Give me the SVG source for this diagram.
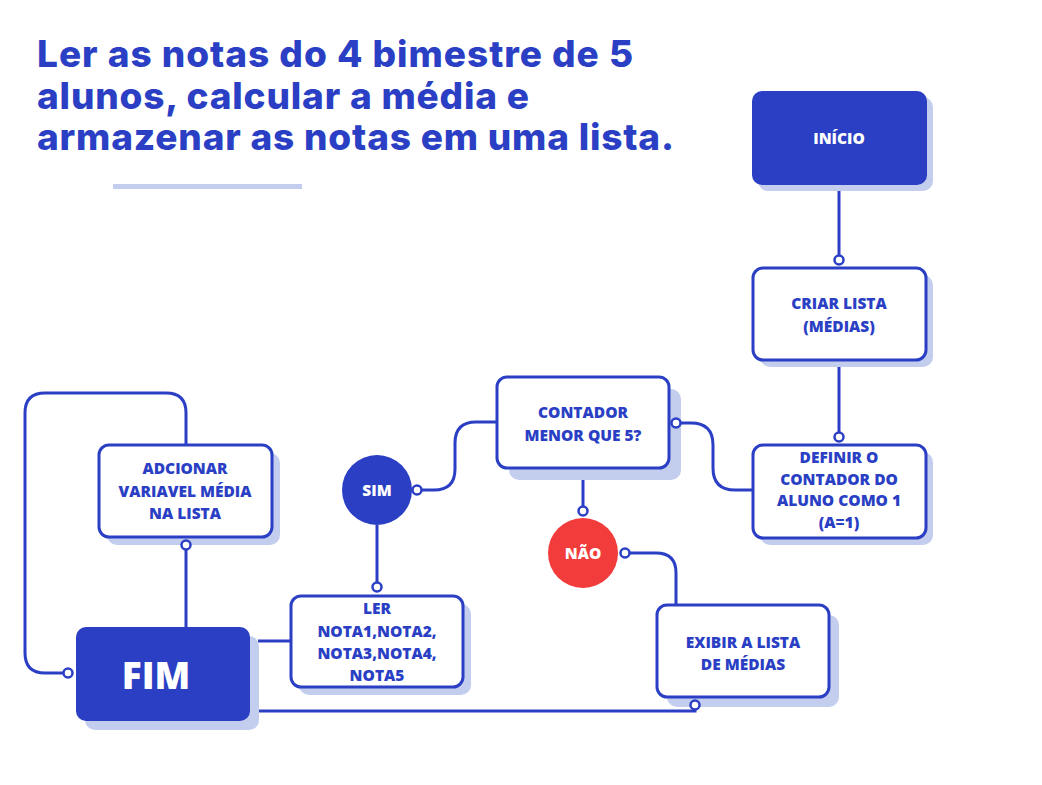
<svg xmlns="http://www.w3.org/2000/svg" width="1042" height="785" viewBox="0 0 1042 785">
<style>
.title{font-family:Inter,"Liberation Sans",sans-serif;font-weight:800;font-size:37px;fill:#2a3fc4}
.shadow{fill:#c3cdee}
.box{fill:#fff;stroke:#2a3fc4;stroke-width:3}
.solid{fill:#2a3fc4}
.t{font-family:"Open Sans","Liberation Sans",sans-serif;font-weight:800;font-size:15.5px;fill:#2a3fc4;text-anchor:middle}
.tw{font-family:"Open Sans","Liberation Sans",sans-serif;font-weight:800;font-size:15.5px;fill:#fff;text-anchor:middle}
.conn{fill:none;stroke:#2a3fc4;stroke-width:3}
.dot{fill:#fff;stroke:#2a3fc4;stroke-width:2.5}
</style>
<rect width="1042" height="785" fill="#fff"/>
<g id="title">
<text class="title" x="37" y="67" textLength="596" lengthAdjust="spacing">Ler as notas do 4 bimestre de 5</text>
<text class="title" x="37" y="109" textLength="492" lengthAdjust="spacing">alunos, calcular a média e</text>
<text class="title" x="37" y="150" textLength="637" lengthAdjust="spacing">armazenar as notas em uma lista.</text>
<rect x="113" y="184" width="189" height="5" fill="#c3cdee"/>
</g>
<g id="connectors">
<path class="conn" d="M839,185 V256"/>
<path class="conn" d="M839,360 V433"/>
<path class="conn" d="M753,490 H735 Q713,490 713,468 V445 Q713,423 691,423 H680"/>
<path class="conn" d="M497,422 H476 Q455,422 455,443 V469 Q455,490 434,490 H421"/>
<path class="conn" d="M377,525 V583"/>
<path class="conn" d="M583,468 V507"/>
<path class="conn" d="M629,553 H656 Q676,553 676,573 V605"/>
<path class="conn" d="M258,711 H695 V709"/>
<path class="conn" d="M258,641 H291"/>
<path class="conn" d="M186,627 V549"/>
<path class="conn" d="M186,445 V413 Q186,393 166,393 H45 Q25,393 25,413 V653 Q25,673 45,673 H64"/>
</g>
<g id="inicio">
<rect class="shadow" x="758" y="97" width="175" height="94" rx="10"/>
<rect class="solid" x="752" y="91" width="175" height="94" rx="10"/>
<text class="tw" x="839" y="144">INÍCIO</text>
</g>
<g id="criar">
<rect class="shadow" x="760" y="275" width="173" height="92" rx="10"/>
<rect class="box" x="753" y="268" width="173" height="92" rx="10"/>
<text class="t" x="839" y="309">CRIAR LISTA</text>
<text class="t" x="839" y="332">(MÉDIAS)</text>
</g>
<g id="definir">
<rect class="shadow" x="760" y="452" width="173" height="93" rx="10"/>
<rect class="box" x="753" y="445" width="173" height="93" rx="10"/>
<text class="t" x="839" y="463">DEFINIR O</text>
<text class="t" x="839" y="485">CONTADOR DO</text>
<text class="t" x="839" y="506">ALUNO COMO 1</text>
<text class="t" x="839" y="528">(A=1)</text>
</g>
<g id="contador">
<rect class="shadow" x="509" y="389" width="172" height="91" rx="10"/>
<rect class="box" x="497" y="377" width="172" height="91" rx="10"/>
<text class="t" x="583" y="418">CONTADOR</text>
<text class="t" x="583" y="441">MENOR QUE 5?</text>
</g>
<g id="sim">
<circle cx="377" cy="490" r="35" fill="#2a3fc4"/>
<text class="tw" x="377" y="496">SIM</text>
</g>
<g id="nao">
<circle cx="583" cy="553" r="35" fill="#f23b3b"/>
<text class="tw" x="583" y="559">NÃO</text>
</g>
<g id="ler">
<rect class="shadow" x="299" y="604" width="172" height="91" rx="10"/>
<rect class="box" x="291" y="596" width="172" height="91" rx="10"/>
<text class="t" x="377" y="614">LER</text>
<text class="t" x="377" y="637">NOTA1,NOTA2,</text>
<text class="t" x="377" y="659">NOTA3,NOTA4,</text>
<text class="t" x="377" y="681">NOTA5</text>
</g>
<g id="exibir">
<rect class="shadow" x="667" y="615" width="172" height="92" rx="10"/>
<rect class="box" x="657" y="605" width="172" height="92" rx="10"/>
<text class="t" x="743" y="648">EXIBIR A LISTA</text>
<text class="t" x="743" y="670">DE MÉDIAS</text>
</g>
<g id="adcionar">
<rect class="shadow" x="107" y="453" width="173" height="92" rx="10"/>
<rect class="box" x="99" y="445" width="173" height="92" rx="10"/>
<text class="t" x="185" y="474">ADCIONAR</text>
<text class="t" x="185" y="497">VARIAVEL MÉDIA</text>
<text class="t" x="185" y="519">NA LISTA</text>
</g>
<g id="fim">
<rect class="shadow" x="85" y="636" width="174" height="94" rx="10"/>
<rect class="solid" x="76" y="627" width="174" height="94" rx="10"/>
<text class="tw" x="156" y="689" style="font-size:37px">FIM</text>
</g>
<g id="connector-dots">
<circle class="dot" cx="839" cy="260" r="4.5"/>
<circle class="dot" cx="839" cy="437" r="4.5"/>
<circle class="dot" cx="676" cy="423" r="4.5"/>
<circle class="dot" cx="417" cy="490" r="4.5"/>
<circle class="dot" cx="377" cy="587" r="4.5"/>
<circle class="dot" cx="583" cy="511" r="4.5"/>
<circle class="dot" cx="625" cy="553" r="4.5"/>
<circle class="dot" cx="695" cy="705" r="4.5"/>
<circle class="dot" cx="186" cy="545" r="4.5"/>
<circle class="dot" cx="68" cy="673" r="4.5"/>
</g>
</svg>
